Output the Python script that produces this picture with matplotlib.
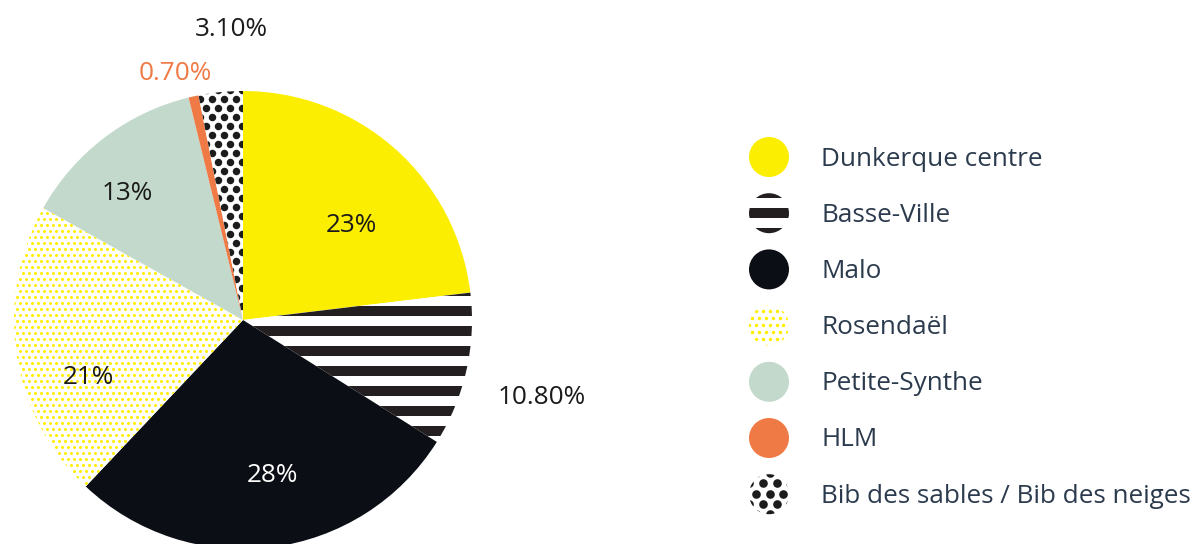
import numpy as np
import matplotlib.pyplot as plt
from matplotlib.patches import Circle, Rectangle

plt.rcParams['font.family'] = ['Open Sans', 'DejaVu Sans']

# Données
quartiers = ['Dunkerque centre', 'Basse-Ville', 'Malo', 'Rosendaël',
             'Petite-Synthe', 'HLM', 'Bib des sables / Bib des neiges']
parts = [23, 10.8, 28, 21, 13, 0.7, 3.1]
etiquettes = ['23%', '10.80%', '28%', '21%', '13%', '0.70%', '3.10%']

# Style
couleurs = ['#fbee00', 'white', '#0b0e15', 'white', '#c2d9cb', '#f07a45', 'white']
motifs = [None, 'rayures', None, 'points_jaunes', None, None, 'points_noirs']
couleurs_txt = ['#1a1a1a', '#1a1a1a', 'white', '#1a1a1a', '#1a1a1a', '#f07a45', '#1a1a1a']
pos_txt = [(351, 226), (542, 398), (272, 476), (88, 378), (127, 194), (175, 74), (231, 30)]

W, H = 1192, 544
fig = plt.figure(figsize=(W / 100, H / 100), dpi=100)
ax = fig.add_axes([0, 0, 1, 1])

cx, cy, r = 243, H - 320, 229
fs = 18.8


def remplir(patch, motif, x0, y0, rayon, echelle=1.0, decal=0.0):
    # texture clippée dans le patch
    if motif == 'rayures':
        per, ep = 20 * echelle, 10 * echelle
        for yc in np.arange(y0 + decal - 13 * per, y0 + decal + 13 * per, per):
            if abs(yc - y0) > rayon + per:
                continue
            rect = Rectangle((x0 - rayon - 5, yc - ep / 2), 2 * rayon + 10, ep,
                             color='#231f20', lw=0, zorder=3)
            ax.add_patch(rect)
            rect.set_clip_path(patch)
    elif motif in ('points_jaunes', 'points_noirs'):
        if motif == 'points_jaunes':
            dx, dy, d, c = 6 * echelle, 6 * echelle, 3 * echelle, '#ffee00'
        else:
            dx, dy, d, c = 12 * echelle, 9 * echelle, 7.5 * echelle, '#1c1c1c'
        xs, ys = [], []
        for i, yy in enumerate(np.arange(y0 - rayon - dy, y0 + rayon + dy, dy)):
            off = dx / 2 if i % 2 else 0
            for xx in np.arange(x0 - rayon - dx + off, x0 + rayon + dx, dx):
                xs.append(xx)
                ys.append(yy)
        sc = ax.scatter(xs, ys, s=(d * 0.72) ** 2, color=c, lw=0, zorder=3)
        sc.set_clip_path(patch)


wedges, _ = ax.pie(parts, colors=couleurs, startangle=90, counterclock=False,
                   center=(cx, cy), radius=r, wedgeprops=dict(linewidth=0))
for w, m in zip(wedges, motifs):
    if m:
        remplir(w, m, cx, cy, r, decal=8.7)

for txt, (x, y), c in zip(etiquettes, pos_txt, couleurs_txt):
    ax.text(x, H - y, txt, color=c, fontsize=fs, ha='center', va='center')

# Légende
lx, ly0, pas, lr = 769, 157, 56.2, 20
for i, (nom, c, m) in enumerate(zip(quartiers, couleurs, motifs)):
    y = H - (ly0 + i * pas)
    circ = Circle((lx, y), lr, facecolor=c, lw=0, zorder=2)
    ax.add_patch(circ)
    if m:
        remplir(circ, m, lx, y, lr, 1.15 if m != 'rayures' else 1.0)
    ax.text(821, y - 2, nom, color='#2b3a4d', fontsize=fs, ha='left', va='center')

ax.set_xlim(0, W)
ax.set_ylim(0, H)
ax.set_aspect('auto')
ax.axis('off')

plt.savefig('out.png', dpi=100)
